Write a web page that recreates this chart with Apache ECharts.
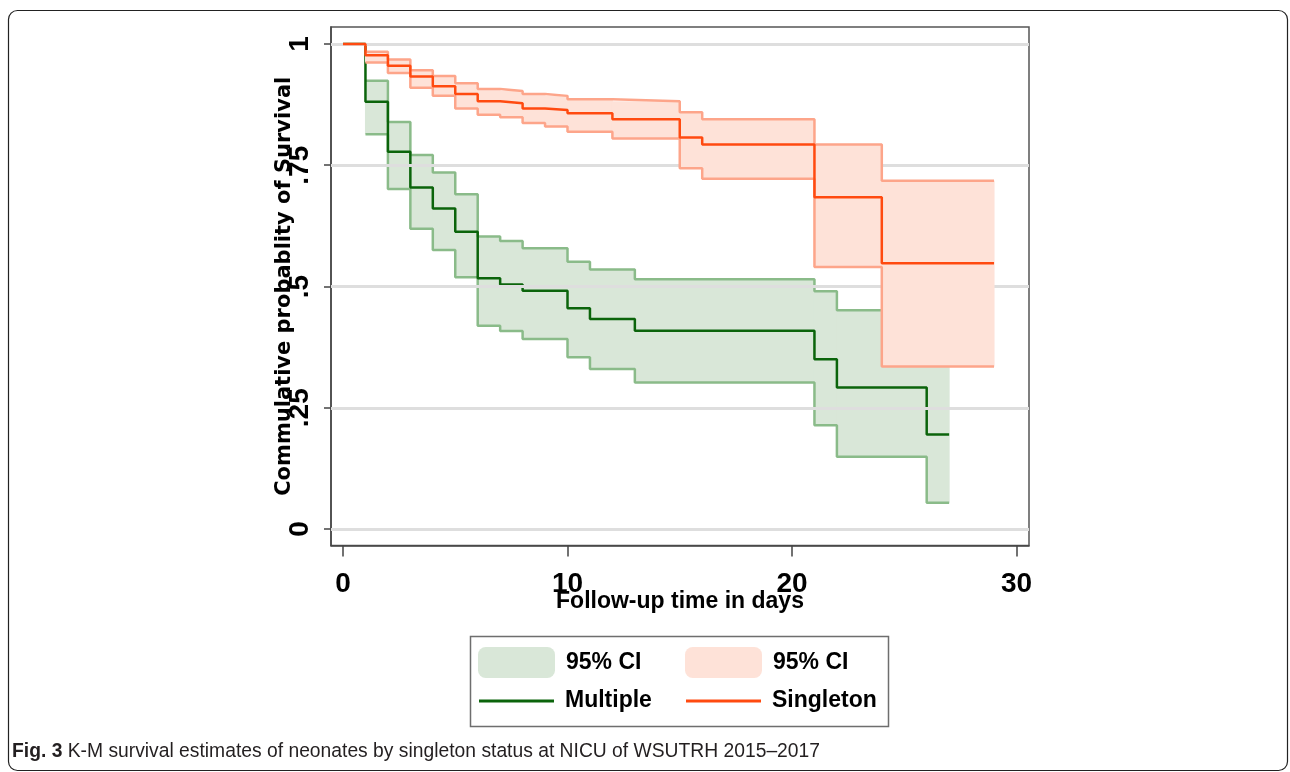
<!DOCTYPE html>
<html><head><meta charset="utf-8">
<script src="https://cdn.jsdelivr.net/npm/echarts@6/dist/echarts.min.js"></script>
<style>html,body{margin:0;padding:0;background:#fff}#c{width:1290px;height:772px}</style>
</head><body><div id="c"></div>
<script>
// ---- axis ticks ----
const xTicks = [0, 10, 20, 30];
const yTicks = [0, 0.25, 0.5, 0.75, 1];
const yTickLabels = ['0', '.25', '.5', '.75', '1'];

// ---- Multiple births: K-M estimate ----
const multTime = [0, 1, 2, 3, 4, 5, 6, 7, 8, 10, 11, 13, 21, 22, 26];
const multSurv = [1, 0.881, 0.778, 0.704, 0.661, 0.613, 0.517, 0.504, 0.491, 0.455, 0.433, 0.409, 0.350, 0.292, 0.195];
const multEnd = 27;
// 95% CI (Multiple)
const multCiTime = [1, 2, 3, 4, 5, 6, 7, 8, 10, 11, 13, 21, 22, 26];
const multCiLow  = [0.814, 0.701, 0.619, 0.575, 0.519, 0.419, 0.408, 0.392, 0.354, 0.330, 0.302, 0.214, 0.149, 0.054];
const multCiHigh = [0.924, 0.839, 0.771, 0.735, 0.690, 0.603, 0.594, 0.579, 0.551, 0.535, 0.515, 0.490, 0.451, 0.420];

// ---- Singleton births: K-M estimate ----
const singTime = [0, 1, 2, 3, 4, 5, 6, 7, 8, 9, 10, 12, 15, 16, 21, 24];
const singSurv = [1, 0.977, 0.955, 0.933, 0.913, 0.897, 0.882, 0.878, 0.867, 0.864, 0.857, 0.845, 0.807, 0.793, 0.684, 0.548];
const singEnd = 29;
// 95% CI (Singleton)
const singCiTime = [1, 2, 3, 4, 5, 6, 7, 8, 9, 10, 12, 15, 16, 21, 24];
const singCiLow  = [0.962, 0.940, 0.910, 0.893, 0.867, 0.854, 0.849, 0.837, 0.830, 0.819, 0.805, 0.744, 0.722, 0.540, 0.335];
const singCiHigh = [0.984, 0.968, 0.946, 0.934, 0.919, 0.907, 0.903, 0.897, 0.893, 0.886, 0.882, 0.859, 0.845, 0.793, 0.718];

// ---- colours ----
const GREEN_LINE = '#0b640b', GREEN_EDGE = '#8abb89', GREEN_FILL = '#d9e7d8';
const ORANGE_LINE = '#ff4a10', ORANGE_EDGE = '#fda58a', ORANGE_FILL = '#fee2d8';

function stepData(times, vals, end) {
  const d = times.map((t, i) => [t, vals[i]]);
  d.push([end, vals[vals.length - 1]]);
  return d;
}
function bandData(times, lo, hi, end) {
  return times.map((t, i) => [t, i + 1 < times.length ? times[i + 1] : end, lo[i], hi[i]]);
}
function bandItem(fill) {
  return function (params, api) {
    const a = api.coord([api.value(0), api.value(3)]);
    const b = api.coord([api.value(1), api.value(2)]);
    return { type: 'rect', shape: { x: a[0] - 0.5, y: a[1], width: b[0] - a[0] + 1, height: b[1] - a[1] },
             style: { fill: fill } };
  };
}
function stepLine(name, data, color, z) {
  return { type: 'line', name: name, step: 'end', data: data, symbol: 'none', showSymbol: false,
           lineStyle: { color: color, width: 2.5 }, itemStyle: { color: color }, z: z,
           silent: true, emphasis: { disabled: true }, animation: false };
}

const NARROW = '"Liberation Sans Narrow", "Liberation Sans", Arial, sans-serif';
const SANS = '"Liberation Sans", Arial, sans-serif';
const WIDE = '"DejaVu Sans", "Liberation Sans", sans-serif';

const legendCommon = {
  orient: 'horizontal', padding: 0, selectedMode: false,
  formatter: n => n.replace(/^(Multiple|Singleton) 95% CI$/, '95% CI'),
  textStyle: { fontFamily: SANS, fontWeight: 'bold', fontSize: 23, color: '#000', padding: [0, 0, 0, 6] }
};

const chart = echarts.init(document.getElementById('c'), null, { renderer: 'canvas' });
chart.setOption({
  animation: false,
  backgroundColor: '#fff',
  grid: { left: 331, right: 261, top: 27, bottom: 226.5, show: true, borderColor: '#555', borderWidth: 1.5,
          containLabel: false, outerBoundsMode: 'none' },
  xAxis: {
    type: 'value', min: -0.535, max: 30.557,
    axisLine: { show: true, onZero: false, lineStyle: { color: '#444', width: 1.5 } },
    axisTick: { show: true, length: 11, customValues: xTicks, lineStyle: { color: '#444', width: 1.5 } },
    axisLabel: { customValues: xTicks, margin: 25, fontSize: 28, fontWeight: 'bold', fontFamily: NARROW, color: '#000' },
    splitLine: { show: false },
    name: 'Follow-up time in days', nameLocation: 'middle', nameGap: 44.5, nameMoveOverlap: false,
    nameTextStyle: { fontSize: 23, fontWeight: 'bold', fontFamily: SANS, color: '#000' }
  },
  yAxis: {
    type: 'value', min: -0.034, max: 1.035,
    axisLine: { show: true, onZero: false, lineStyle: { color: '#444', width: 1.5 } },
    axisTick: { show: true, length: 7, customValues: yTicks, lineStyle: { color: '#444', width: 1.5 } },
    axisLabel: { customValues: yTicks, rotate: 90, margin: 17, fontSize: 28, fontWeight: 'bold', fontFamily: NARROW, color: '#000',
                 formatter: v => { const i = yTicks.findIndex(t => Math.abs(t - v) < 1e-9); return i >= 0 ? yTickLabels[i] : ''; } },
    splitLine: { show: false },
    name: 'Commulative probablity of Survival', nameLocation: 'middle', nameGap: 36, nameRotate: 90, nameMoveOverlap: false,
    nameTextStyle: { fontSize: 21, fontWeight: 'bold', fontFamily: WIDE, color: '#000' }
  },
  legend: [
    Object.assign({}, legendCommon, { left: 478, top: 647, itemWidth: 77, itemHeight: 31,
      data: [{ name: 'Multiple 95% CI', icon: 'roundRect', itemStyle: { color: GREEN_FILL } }] }),
    Object.assign({}, legendCommon, { left: 685, top: 647, itemWidth: 77, itemHeight: 31,
      data: [{ name: 'Singleton 95% CI', icon: 'roundRect', itemStyle: { color: ORANGE_FILL } }] }),
    Object.assign({}, legendCommon, { left: 479, top: 689.5, itemWidth: 75, itemHeight: 3,
      data: [{ name: 'Multiple', icon: 'rect', itemStyle: { color: GREEN_LINE } }] }),
    Object.assign({}, legendCommon, { left: 686, top: 689.5, itemWidth: 75, itemHeight: 3,
      data: [{ name: 'Singleton', icon: 'rect', itemStyle: { color: ORANGE_LINE } }] })
  ],
  graphic: [
    { type: 'rect', silent: true, shape: { x: 8.5, y: 10.5, width: 1279, height: 760, r: 9 },
      style: { fill: 'none', stroke: '#222', lineWidth: 1.2 } },
    { type: 'rect', silent: true, shape: { x: 470.5, y: 636.5, width: 418, height: 90 },
      style: { fill: 'none', stroke: '#6e6e6e', lineWidth: 1.5 } },
    { type: 'text', silent: true, left: 12, top: 742,
      style: { text: '{b|Fig. 3} K-M survival estimates of neonates by singleton status at NICU of WSUTRH 2015\u20132017',
               fontSize: 19.3, fontFamily: SANS, fill: '#231f20',
               rich: { b: { fontSize: 19.3, fontWeight: 'bold', fontFamily: SANS, fill: '#231f20' } } } }
  ],
  series: [
    { type: 'line', name: 'grid', data: [], silent: true, z: 1, symbol: 'none',
      markLine: { silent: true, symbol: ['none', 'none'], label: { show: false }, animation: false,
                  lineStyle: { color: '#dedede', width: 3, type: 'solid' },
                  emphasis: { disabled: true },
                  data: yTicks.map(v => ({ yAxis: v })) } },
    { type: 'custom', name: 'Multiple 95% CI', data: bandData(multCiTime, multCiLow, multCiHigh, multEnd),
      encode: { x: [0, 1], y: [2, 3] }, renderItem: bandItem(GREEN_FILL), itemStyle: { color: GREEN_FILL },
      z: 2, silent: true, animation: false },
    stepLine('Multiple CI lower', stepData(multCiTime, multCiLow, multEnd), GREEN_EDGE, 3),
    stepLine('Multiple CI upper', stepData(multCiTime, multCiHigh, multEnd), GREEN_EDGE, 3),
    stepLine('Multiple', stepData(multTime, multSurv, multEnd), GREEN_LINE, 4),
    { type: 'custom', name: 'Singleton 95% CI', data: bandData(singCiTime, singCiLow, singCiHigh, singEnd),
      encode: { x: [0, 1], y: [2, 3] }, renderItem: bandItem(ORANGE_FILL), itemStyle: { color: ORANGE_FILL },
      z: 5, silent: true, animation: false },
    stepLine('Singleton CI lower', stepData(singCiTime, singCiLow, singEnd), ORANGE_EDGE, 6),
    stepLine('Singleton CI upper', stepData(singCiTime, singCiHigh, singEnd), ORANGE_EDGE, 6),
    stepLine('Singleton', stepData(singTime, singSurv, singEnd), ORANGE_LINE, 7)
  ]
});
</script></body></html>
